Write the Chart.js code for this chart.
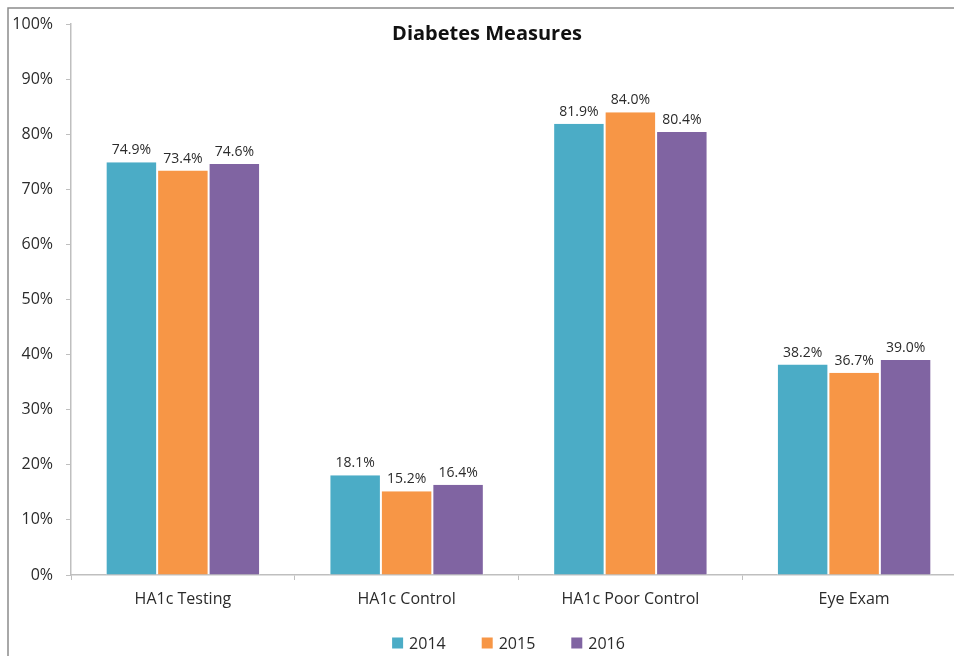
<!DOCTYPE html>
<html>
<head>
<meta charset="utf-8">
<script src="https://cdn.jsdelivr.net/npm/chart.js@4"></script>
<style>
html,body{margin:0;padding:0;background:#fff;overflow:hidden;width:954px;height:656px;}
canvas{display:block;}
</style>
</head>
<body>
<canvas id="c" width="975" height="656" style="width:975px;height:656px"></canvas>
<script>
const categories = ["HA1c Testing", "HA1c Control", "HA1c Poor Control", "Eye Exam"];
const seriesNames = ["2014", "2015", "2016"];
const values2014 = [74.9, 18.1, 81.9, 38.2];
const values2015 = [73.4, 15.2, 84.0, 36.7];
const values2016 = [74.6, 16.4, 80.4, 39.0];
const yTicks = [0, 10, 20, 30, 40, 50, 60, 70, 80, 90, 100];
const titleText = "Diabetes Measures";

const FONT = "'Open Sans', 'DejaVu Sans', sans-serif";
const colors = ["#4BACC6", "#F79646", "#8064A2"];
const TEXT = '#2b2b2b';

const frame = {
  id: 'frame',
  beforeDraw(chart) {
    const ctx = chart.ctx;
    ctx.save();
    ctx.fillStyle = '#fff';
    ctx.fillRect(0, 0, chart.width, chart.height);
    ctx.strokeStyle = '#8c8c8c';
    ctx.lineWidth = 1.5;
    ctx.beginPath();
    ctx.moveTo(8, 656); ctx.lineTo(8, 8); ctx.lineTo(chart.width, 8);
    ctx.stroke();
    ctx.restore();
  },
  afterDraw(chart) {
    const ctx = chart.ctx;
    ctx.save();
    ctx.font = "bold 20px " + FONT;
    ctx.fillStyle = '#111';
    ctx.textAlign = 'center';
    ctx.textBaseline = 'middle';
    ctx.fillText(titleText, 487, 34);
    // data labels
    ctx.font = "14px " + FONT;
    ctx.fillStyle = TEXT;
    ctx.textBaseline = 'alphabetic';
    chart.data.datasets.forEach((ds, i) => {
      const meta = chart.getDatasetMeta(i);
      meta.data.forEach((bar, j) => {
        ctx.fillText(ds.data[j].toFixed(1) + '%', bar.x, bar.y - 8);
      });
    });
    // legend
    ctx.font = "16px " + FONT;
    ctx.textAlign = 'left';
    ctx.textBaseline = 'middle';
    const box = 11, gap = 6, spacing = 36;
    const widths = chart.data.datasets.map(ds => box + gap + ctx.measureText(ds.label).width);
    const total = widths.reduce((a, b) => a + b, 0) + spacing * (widths.length - 1);
    let x = 508.5 - total / 2;
    const cy = 643;
    chart.data.datasets.forEach((ds, i) => {
      ctx.fillStyle = ds.backgroundColor;
      ctx.fillRect(x, cy - box / 2, box, box);
      ctx.fillStyle = TEXT;
      ctx.fillText(ds.label, x + box + gap, cy + 1);
      x += widths[i] + spacing;
    });
    ctx.restore();
  }
};

new Chart(document.getElementById('c'), {
  type: 'bar',
  data: {
    labels: categories,
    datasets: [
      {label: seriesNames[0], data: values2014, backgroundColor: colors[0]},
      {label: seriesNames[1], data: values2015, backgroundColor: colors[1]},
      {label: seriesNames[2], data: values2016, backgroundColor: colors[2]}
    ].map(d => Object.assign(d, {borderColor: '#ffffff', borderWidth: {left: 1, right: 1, top: 0, bottom: 0}, barPercentage: 1.0, categoryPercentage: 0.69}))
  },
  options: {
    responsive: false,
    animation: false,
    layout: {padding: {left: 8, right: 9, top: 24, bottom: 0}},
    plugins: {
      title: {display: false},
      tooltip: {enabled: false},
      legend: {display: false}
    },
    scales: {
      x: {
        afterFit: (s) => { s.height = 81; },
        grid: {drawOnChartArea: false, color: '#bfbfbf', tickLength: 5, offset: true},
        border: {color: '#bfbfbf', width: 1.5},
        ticks: {color: TEXT, font: {family: FONT, size: 16}, padding: 10, maxRotation: 0}
      },
      y: {
        min: 0, max: 100,
        afterBuildTicks: (s) => { s.ticks = yTicks.map(v => ({value: v})); },
        afterFit: (s) => { s.width = 63; },
        grid: {drawOnChartArea: false, color: '#bfbfbf', tickLength: 5},
        border: {color: '#bfbfbf', width: 1.5},
        ticks: {color: TEXT, font: {family: FONT, size: 16}, padding: 13, callback: v => v + '%'}
      }
    }
  },
  plugins: [frame]
});
</script>
</body>
</html>
